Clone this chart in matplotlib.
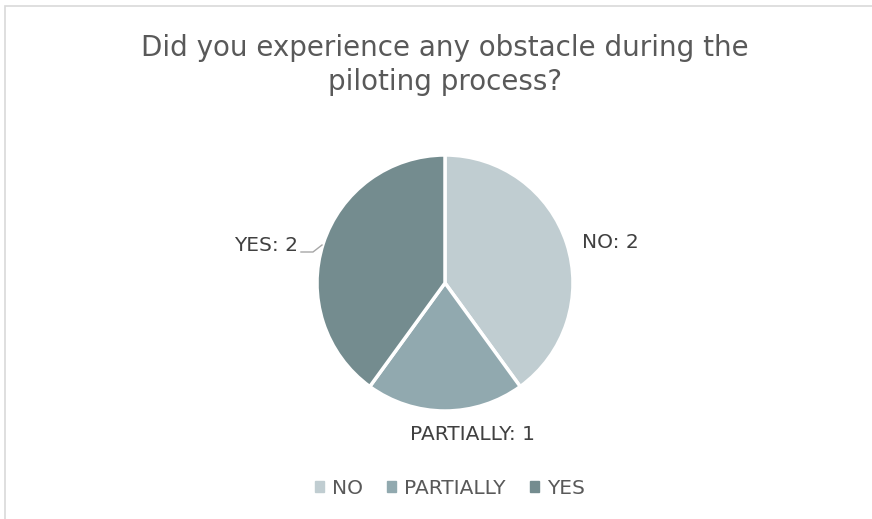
import matplotlib.pyplot as plt
from matplotlib.patches import Rectangle

# survey answers
categories = ['NO', 'PARTIALLY', 'YES']
counts = [2, 1, 2]
colors = ['#C0CDD1', '#91A9AF', '#748C8F']

W, H = 872, 519
fig = plt.figure(figsize=(W / 100, H / 100), dpi=100)
plt.rcParams['font.family'] = ['DejaVu Sans']

# chart frame (clipped on right/bottom)
fig.add_artist(Rectangle((5 / W, -0.1), 1.2, 1 - 6 / H + 0.1,
                         transform=fig.transFigure, fill=False,
                         edgecolor='#D9D9D9', linewidth=1.2))

fig.text(445 / W, 1 - 48 / H, 'Did you experience any obstacle during the',
         ha='center', va='center', fontsize=20, color='#595959')
fig.text(445 / W, 1 - 82 / H, 'piloting process?',
         ha='center', va='center', fontsize=20, color='#595959')

# pie axes sized in pixels
cx, cy, r = 445, 283, 128
ax = fig.add_axes([(cx - r) / W, 1 - (cy + r) / H, 2 * r / W, 2 * r / H])
wedges, _ = ax.pie(counts, colors=colors, startangle=90, counterclock=False,
                   wedgeprops=dict(edgecolor='white', linewidth=2.5))
ax.set_xlim(-1, 1)
ax.set_ylim(-1, 1)
ax.set_aspect('equal')

lab_kw = dict(fontsize=14.5, color='#404040', va='center')
fig.text(582 / W, 1 - 242 / H, f'{categories[0]}: {counts[0]}', ha='left', **lab_kw)
fig.text(472 / W, 1 - 435 / H, f'{categories[1]}: {counts[1]}', ha='center', **lab_kw)
fig.text(298 / W, 1 - 245 / H, f'{categories[2]}: {counts[2]}', ha='right', **lab_kw)
# leader line for YES label
fig.add_artist(plt.Line2D([301 / W, 313 / W, 322 / W],
                          [1 - 252 / H, 1 - 252 / H, 1 - 245 / H],
                          transform=fig.transFigure, color='#A6A6A6', linewidth=1))

# legend
handles = [Rectangle((0, 0), 1, 1, color=c) for c in colors]
fig.legend(handles, categories, loc='center', bbox_to_anchor=(450 / W, 1 - 488 / H),
           ncol=3, frameon=False, fontsize=14.5, handlelength=0.45, handleheight=0.45,
           handletextpad=0.4, columnspacing=1.2, labelcolor='#595959')

fig.savefig('out.png', dpi=100, facecolor='white')
